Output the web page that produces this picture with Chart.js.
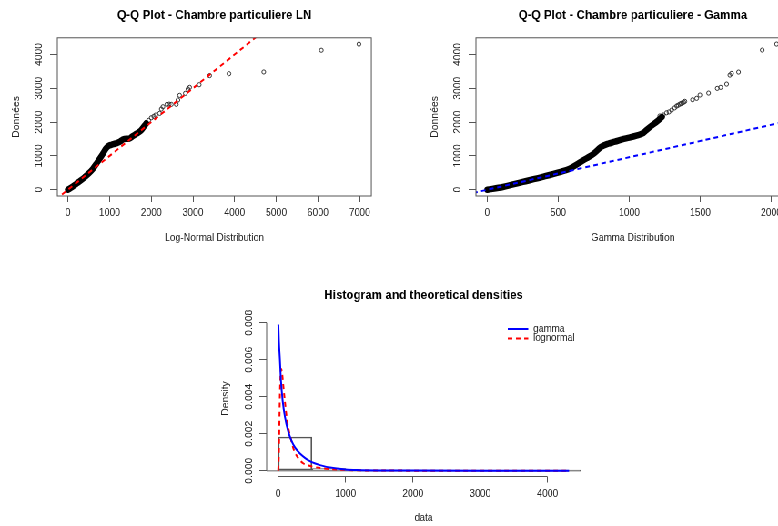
<!DOCTYPE html>
<html>
<head>
<meta charset="utf-8">
<script src="https://cdn.jsdelivr.net/npm/chart.js@4/dist/chart.umd.min.js"></script>
<style>
  html, body { margin: 0; padding: 0; background: #fff; overflow: hidden; width: 778px; height: 526px; }
  #fig { position: absolute; left: 0; top: 0; width: 1000px; height: 526px; transform-origin: 0 0; }
  #fig canvas { position: absolute; }
</style>
</head>
<body>
<div id="fig">
  <canvas id="qqLn"></canvas>
  <canvas id="qqGamma"></canvas>
  <canvas id="hist"></canvas>
</div>
<script>
// ---- Q-Q log-normal : theoretical quantiles vs observed
const lnBandX = [0, 100, 200, 300, 400, 500, 600, 700, 780, 850, 920, 980, 1050, 1150, 1250, 1320, 1400, 1470, 1550, 1650, 1750, 1830, 1880];
const lnBandY = [0, 80, 175, 270, 370, 480, 620, 800, 950, 1090, 1230, 1300, 1330, 1370, 1420, 1490, 1510, 1510, 1580, 1660, 1750, 1880, 1960];
const lnPtsX = [1881, 1940, 2001, 2060, 2105, 2201, 2241, 2280, 2376, 2430, 2481, 2601, 2640, 2680, 2817, 2880, 2921, 3150, 3401, 3864, 4700, 6081, 6984];
const lnPtsY = [1992, 2050, 2128, 2170, 2208, 2258, 2385, 2453, 2524, 2530, 2524, 2524, 2652, 2790, 2850, 2977, 3027, 3105, 3375, 3432, 3482, 4125, 4305];
const lnRefX = [-300, 4600];
const lnRefY = [-300, 4600];
const lnXTicks = [0, 1000, 2000, 3000, 4000, 5000, 6000, 7000];

// ---- Q-Q gamma
const gBandX = [0, 110, 250, 390, 510, 580, 650, 700, 750, 800, 850, 900, 950, 1000, 1050, 1100, 1120, 1150, 1190, 1230];
const gBandY = [0, 80, 230, 380, 520, 620, 800, 930, 1070, 1260, 1360, 1420, 1490, 1540, 1600, 1680, 1760, 1870, 2000, 2150];
const gPtsX = [1215, 1240, 1263, 1280, 1299, 1320, 1334, 1345, 1357, 1366, 1376, 1384, 1392, 1446, 1475, 1498, 1559, 1620, 1644, 1686, 1709, 1721, 1770, 1937, 2038];
const gPtsY = [2180, 2210, 2276, 2300, 2356, 2420, 2474, 2500, 2533, 2550, 2572, 2590, 2613, 2660, 2702, 2800, 2858, 2997, 3027, 3124, 3390, 3440, 3479, 4130, 4307];
const gRefX = [-100, 2200];
const gRefY = [-96, 2112];
const gXTicks = [0, 500, 1000, 1500, 2000];

const qqYTicks = [0, 1000, 2000, 3000, 4000];

// ---- histogram + fitted densities
const histBreaks = [0, 500, 1000, 1500, 2000, 2500, 3000, 3500, 4000, 4500];
const histDensity = [0.00182, 0.00011, 0.00003, 0.000012, 0.000008, 0.000004, 0.000004, 0.000002, 0.000002];
const gammaX = [2, 10, 25, 40, 65, 100, 150, 200, 250, 320, 400, 450, 500, 620, 700, 870, 1000, 1170, 1500, 2000, 3000, 4320];
const gammaY = [0.0079, 0.0070, 0.0060, 0.0049, 0.0038, 0.0029, 0.0021, 0.0016, 0.00125, 0.00094, 0.00068, 0.00056, 0.00046, 0.0003, 0.00022, 0.00012, 0.00007, 0.00004, 0.000015, 0.000004, 0.000001, 0];
const lnormX = [0, 10, 20, 30, 45, 60, 75, 100, 125, 150, 175, 200, 225, 260, 300, 370, 450, 520, 650, 770, 900, 1100, 1400, 2000, 3000, 4320];
const lnormY = [0, 0.0010, 0.0032, 0.0048, 0.0055, 0.0052, 0.0046, 0.0037, 0.0029, 0.0023, 0.0019, 0.00155, 0.0012, 0.0009, 0.00067, 0.0004, 0.00028, 0.00021, 0.00013, 0.00009, 0.00006, 0.00003, 0.00001, 0.000003, 0, 0];
const histXTicks = [0, 1000, 2000, 3000, 4000];
const histYTicks = [0, 0.002, 0.004, 0.006, 0.008];

// horizontal squeeze of the whole figure
const S = 0.91;
const AXIS_W = 60;
const AREA_W = 314 / S;

const FONT = "'Liberation Sans', Arial, sans-serif";
Chart.defaults.font.family = FONT;
Chart.defaults.font.size = 10.4;
Chart.defaults.color = '#222';
Chart.defaults.animation = false;
Chart.defaults.responsive = false;
Chart.defaults.devicePixelRatio = 1;
Chart.defaults.plugins.legend.display = false;
Chart.defaults.plugins.tooltip.enabled = false;

document.getElementById('fig').style.transform = 'scaleX(' + S + ')';

// size a canvas so its plot region starts at areaLeft (screen px)
function placeCanvas(id, areaLeft, top, height) {
  const c = document.getElementById(id);
  c.width = Math.round(2 * AXIS_W + AREA_W);
  c.height = height;
  c.style.left = (areaLeft / S - AXIS_W) + 'px';
  c.style.top = top + 'px';
  return c;
}

const pairs = (xs, ys) => xs.map((x, i) => ({ x: x, y: ys[i] }));

function xAxis(min, max, tickVals, label, fitHeight, titlePad) {
  return {
    type: 'linear', position: 'bottom', min: min, max: max, offset: false,
    afterBuildTicks: s => { s.ticks = tickVals.map(v => ({ value: v })); },
    afterFit: s => { s.height = fitHeight; },
    border: { display: false },
    grid: { drawOnChartArea: false, offset: false, tickLength: 6, color: '#555', lineWidth: 1 },
    ticks: { autoSkip: false, maxRotation: 0, padding: 5, color: '#222', callback: v => String(v) },
    title: { display: true, text: label, color: '#222', padding: { top: 0, bottom: titlePad } }
  };
}

function yAxis(min, max, tickVals, label, labelPad, fmt) {
  return {
    type: 'linear', position: 'left', min: min, max: max,
    afterBuildTicks: s => { s.ticks = tickVals.map(v => ({ value: v })); },
    afterFit: s => { s.width = AXIS_W; },
    border: { display: false },
    grid: { drawOnChartArea: false, tickLength: 8, color: '#555', lineWidth: 1 },
    ticks: { autoSkip: false, minRotation: 90, maxRotation: 90, crossAlign: 'center', padding: labelPad, color: '#222',
             callback: fmt || (v => String(v)) },
    title: { display: true, text: label, color: '#222', padding: { top: 8.5, bottom: 0 } }
  };
}

// empty right-hand axis so the title centres over the plot region
function spacer(canvas) {
  return {
    type: 'linear', position: 'right', min: 0, max: 1,
    afterFit: s => { s.width = canvas.width - AXIS_W - AREA_W; },
    grid: { display: false }, ticks: { display: false }, border: { display: false }
  };
}

function mainTitle(text, padTop, padBottom) {
  return { display: true, text: text, color: '#000',
           font: { family: FONT, size: 12.9, weight: 'bold' },
           padding: { top: padTop, bottom: padBottom } };
}

// box around the plot region, like base graphics
const framePlugin = {
  id: 'frame',
  afterDatasetsDraw(chart) {
    const { ctx, chartArea: a } = chart;
    ctx.save();
    ctx.strokeStyle = '#555';
    ctx.lineWidth = 1;
    ctx.strokeRect(a.left, a.top, a.right - a.left, a.bottom - a.top);
    ctx.restore();
  }
};

// histogram axes only span the tick range, plus a zero line
const histAxesPlugin = {
  id: 'histAxes',
  beforeDatasetsDraw(chart) {
    const { ctx, chartArea: a, scales } = chart;
    const y0 = scales.y.getPixelForValue(0);
    ctx.save();
    ctx.strokeStyle = '#999';
    ctx.lineWidth = 1.5;
    ctx.beginPath();
    ctx.moveTo(a.left, y0);
    ctx.lineTo(a.right, y0);
    ctx.stroke();
    ctx.restore();
  },
  afterDraw(chart) {
    const { ctx, chartArea: a, scales } = chart;
    const xs = scales.x, ys = scales.y;
    ctx.save();
    ctx.strokeStyle = '#555';
    ctx.lineWidth = 1;
    ctx.beginPath();
    ctx.moveTo(xs.getPixelForValue(histXTicks[0]), a.bottom);
    ctx.lineTo(xs.getPixelForValue(histXTicks[histXTicks.length - 1]), a.bottom);
    ctx.moveTo(a.left, ys.getPixelForValue(histYTicks[0]));
    ctx.lineTo(a.left, ys.getPixelForValue(histYTicks[histYTicks.length - 1]));
    ctx.stroke();
    ctx.restore();
  }
};

// legend in the top right corner of the plot region
const densLegendPlugin = {
  id: 'densLegend',
  afterDraw(chart) {
    const { ctx, chartArea: a } = chart;
    const items = chart.data.datasets.filter(d => d.label);
    ctx.save();
    ctx.font = '10.4px ' + FONT;
    ctx.textBaseline = 'middle';
    items.forEach((d, i) => {
      const y = a.top + 8.4 + i * 9.6;
      ctx.strokeStyle = d.borderColor;
      ctx.lineWidth = 2;
      ctx.setLineDash(d.borderDash || []);
      ctx.beginPath();
      ctx.moveTo(a.left + 265, y);
      ctx.lineTo(a.left + 287.5, y);
      ctx.stroke();
      ctx.setLineDash([]);
      ctx.fillStyle = '#222';
      ctx.fillText(d.label, a.left + 293, y);
    });
    ctx.restore();
  }
};

function qqDatasets(refX, refY, refColor, bandX, bandY, ptsX, ptsY) {
  return [
    { type: 'line', data: pairs(refX, refY), borderColor: refColor, borderWidth: 2, borderDash: [5, 4],
      pointRadius: 0, order: 0 },
    { type: 'line', data: pairs(bandX, bandY), borderColor: '#000', borderWidth: 6.5, pointRadius: 0,
      cubicInterpolationMode: 'monotone', borderCapStyle: 'round', borderJoinStyle: 'round', order: 1 },
    { type: 'scatter', data: pairs(ptsX, ptsY), pointRadius: 2.1, pointBorderWidth: 0.9,
      pointBorderColor: '#222', pointBackgroundColor: 'rgba(0,0,0,0)', order: 2 }
  ];
}

const cLn = placeCanvas('qqLn', 57.7, 0, 248);
new Chart(cLn, {
  type: 'scatter',
  data: { datasets: qqDatasets(lnRefX, lnRefY, '#ff0000', lnBandX, lnBandY, lnPtsX, lnPtsY) },
  options: {
    layout: { padding: 0 },
    plugins: { title: mainTitle('Q-Q Plot - Chambre particuliere LN', 7.3, 15) },
    scales: {
      x: xAxis(-254, 7281, lnXTicks, 'Log-Normal Distribution', 52, 4),
      y: yAxis(-186, 4493, qqYTicks, 'Données', 0),
      yr: spacer(cLn)
    }
  },
  plugins: [framePlugin]
});

const cGamma = placeCanvas('qqGamma', 476, 0, 248);
new Chart(cGamma, {
  type: 'scatter',
  data: { datasets: qqDatasets(gRefX, gRefY, '#0000ff', gBandX, gBandY, gPtsX, gPtsY) },
  options: {
    layout: { padding: 0 },
    plugins: { title: mainTitle('Q-Q Plot - Chambre particuliere - Gamma', 7.3, 15) },
    scales: {
      x: xAxis(-80, 2132, gXTicks, 'Gamma Distribution', 52, 4),
      y: yAxis(-186, 4493, qqYTicks, 'Données', 0),
      yr: spacer(cGamma)
    }
  },
  plugins: [framePlugin]
});

const histBars = histDensity.map((d, i) => ({ x: (histBreaks[i] + histBreaks[i + 1]) / 2, y: d }));

const cHist = placeCanvas('hist', 266.7, 280, 246);
new Chart(cHist, {
  type: 'bar',
  data: {
    datasets: [
      { type: 'line', label: 'gamma', data: pairs(gammaX, gammaY), borderColor: '#0000ff', borderWidth: 2,
        pointRadius: 0, cubicInterpolationMode: 'monotone', order: 0 },
      { type: 'line', label: 'lognormal', data: pairs(lnormX, lnormY), borderColor: '#ff0000', borderWidth: 2,
        borderDash: [5, 4], pointRadius: 0, cubicInterpolationMode: 'monotone', order: 1 },
      { type: 'bar', data: histBars, backgroundColor: 'rgba(0,0,0,0)', borderColor: '#555', borderWidth: 1,
        borderSkipped: false, barPercentage: 1, categoryPercentage: 1, grouped: false, order: 2 }
    ]
  },
  options: {
    layout: { padding: 0 },
    plugins: { title: mainTitle('Histogram and theoretical densities', 7.26, 17.86) },
    scales: {
      x: xAxis(-172.5, 4492, histXTicks, 'data', 49.5, 1.5),
      y: yAxis(-0.000314, 0.008114, histYTicks, 'Density', -2.6, v => Number(v).toFixed(3)),
      yr: spacer(cHist)
    }
  },
  plugins: [histAxesPlugin, densLegendPlugin]
});
</script>
</body>
</html>
